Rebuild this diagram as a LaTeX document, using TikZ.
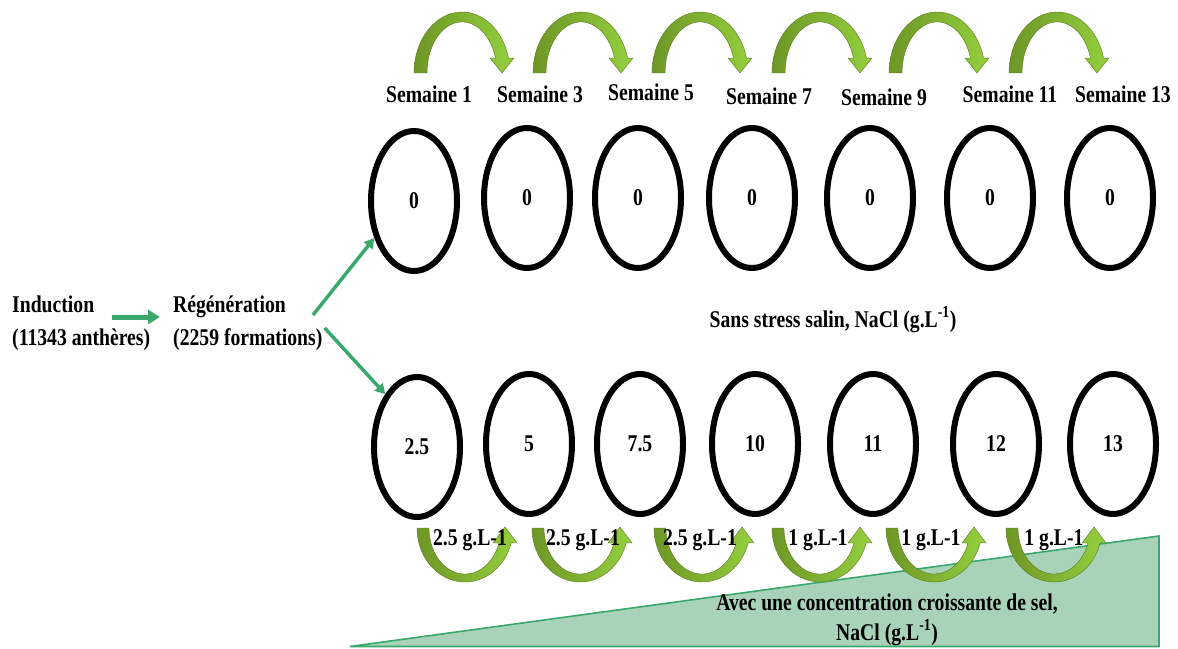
\documentclass[tikz,border=0pt]{standalone}
\usepackage{fontspec}
\setmainfont{Liberation Serif}[FakeStretch=0.82]
\usetikzlibrary{shapes.geometric,arrows.meta}
\definecolor{leafdark}{RGB}{110,150,38}
\definecolor{leaflight}{RGB}{148,208,62}
\definecolor{flowgreen}{RGB}{58,168,108}
\definecolor{saltfill}{RGB}{168,211,184}
\tikzset{
  lbl/.style={font=\fontsize{24}{28}\selectfont\bfseries, inner sep=0pt},
  stage/.style={ellipse, draw=black, line width=6pt, minimum width=86pt,
    minimum height=140pt, inner sep=0pt, font=\fontsize{24}{28}\selectfont\bfseries},
  flow/.style={draw=flowgreen, line width=3.5pt, -{Triangle[length=10pt,width=11pt]}},
  leaf/.style={left color=leafdark, right color=leaflight, draw=leafdark!80!black, line width=0.4pt},
  % arched arrow pointing down on its right end (week to week)
  weekhop/.pic={
    \path[leaf] (-48,0) arc[start angle=180, end angle=346, x radius=48, y radius=61]
      -- (52,-15) -- (40,0) -- (28,-15) -- (33.5,-15)
      arc[start angle=343, end angle=180, x radius=35, y radius=51] -- cycle;
  },
  % U-shaped arrow pointing up on its right end (salt increments)
  dosehop/.pic={
    \path[leaf] (-48,0) arc[start angle=180, end angle=16, x radius=48, y radius=54]
      -- (52,15) -- (40,-1) -- (28,15) -- (34,15)
      arc[start angle=19, end angle=180, x radius=36, y radius=46] -- cycle;
  }
}
\begin{document}
\begin{tikzpicture}[x=1pt,y=-1pt]
\useasboundingbox (0,0) rectangle (1178,648);

% rising salt concentration wedge
\path[draw=flowgreen, line width=1.6pt, fill=saltfill]
  (350,646.5) -- (1159,646.5) -- (1159,536) -- cycle;

% arrows between weeks
\foreach \c in {462,581,700,820,937,1057}
  \pic at (\c,73) {weekhop};
\foreach \c in {465,580,702,820,934,1054}
  \pic at (\c,528) {dosehop};

% culture stages without salt
\foreach \x/\y [count=\i] in {414/201,527/198,638/198,752/198,870/198,990/198,1110/198}
  \node[stage] (t\i) at (\x,\y) {0};

% culture stages with salt
\foreach \x/\y/\v [count=\i] in {417/447/2.5,529/444/5,640/444/7.5,755/444/10,873/444/11,996/444/12,1113/444/13}
  \node[stage] (b\i) at (\x,\y) {\v};

% week labels
\foreach \x/\y/\w in {429/102/1,540/102/3,651/100/5,769/104/7,884/105/9,1010/102/11,1123/102/13}
  \node[lbl, anchor=base] (w\w) at (\x,\y) {Semaine \w};

% salt increment labels
\foreach \x/\t [count=\i] in {470/2.5,583/2.5,700/2.5,818/1,931/1,1054/1}
  \node[lbl, anchor=base] (d\i) at (\x,545) {\t{} g.L-1};

% left-hand steps
\node[lbl, anchor=base west] (ind) at (12,312) {Induction};
\node[lbl, anchor=base west] (indn) at (12,345) {(11343 anthères)};
\node[lbl, anchor=base west] (reg) at (173,312) {Régénération};
\node[lbl, anchor=base west] (regn) at (173,345) {(2259 formations)};

\draw[flow, line width=5pt, -{Triangle[length=12pt,width=14pt]}]
  ([xshift=18pt,yshift=-5pt]ind.base east) -- ([xshift=-13pt,yshift=-5pt]reg.base west);
\draw[flow] ([xshift=27pt,yshift=-3pt]reg.base east) -- (t1.223);
\draw[flow] ([xshift=2pt]regn.north east) -- (b1.121);

% captions
\node[lbl, anchor=base] (nostress) at (833,327) {Sans stress salin, NaCl (g.L\textsuperscript{-1})};
\node[lbl, anchor=base] (salt1) at (887,610) {Avec une concentration croissante de sel,};
\node[lbl, anchor=base] (salt2) at (887,640) {NaCl (g.L\textsuperscript{-1})};
\end{tikzpicture}
\end{document}
